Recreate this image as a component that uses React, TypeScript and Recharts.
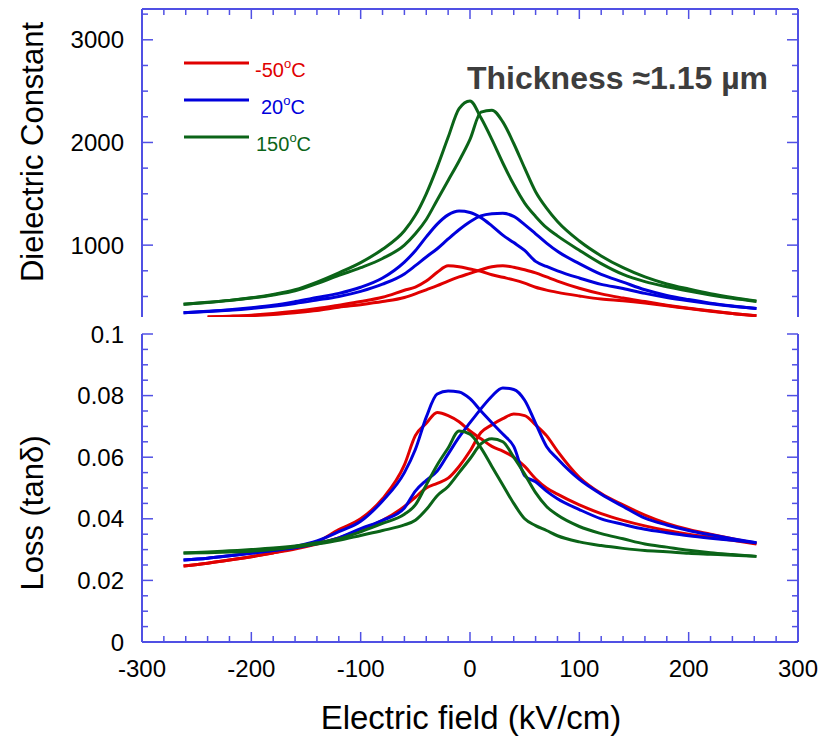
import { LineChart, Line, XAxis, YAxis } from 'recharts';

const FIELD = [-262, -240, -220, -200, -180, -160, -140, -120, -100, -80, -60, -50, -40, -30, -20, -10, 0, 10, 20, 30, 40, 50, 60, 70, 80, 100, 120, 140, 160, 180, 200, 220, 240, 262];

// dielectric constant, branch peaking at negative field (L) and positive field (R)
const EPS_RED_L = [null, 300, 308, 318, 334, 355, 382, 415, 450, 492, 560, 592, 650, 735, 798, 790, 768, 745, 712, 687, 662, 630, 590, 562, 540, 505, 475, 458, 436, 410, 382, 356, 333, 312];
const EPS_RED_R = [null, 300, 305, 313, 325, 342, 362, 395, 420, 450, 490, 525, 565, 605, 650, 690, 725, 760, 790, 800, 785, 760, 730, 690, 650, 580, 525, 485, 450, 415, 385, 360, 335, 312];
const EPS_BLUE_L = [341, 355, 370, 390, 415, 450, 490, 530, 590, 680, 835, 945, 1080, 1205, 1295, 1332, 1318, 1268, 1188, 1098, 1025, 948, 842, 792, 750, 680, 618, 578, 530, 490, 458, 430, 405, 383];
const EPS_BLUE_R = [341, 353, 366, 383, 405, 432, 465, 500, 550, 620, 720, 800, 885, 965, 1060, 1150, 1228, 1285, 1305, 1310, 1280, 1200, 1110, 1020, 940, 820, 715, 640, 565, 510, 470, 435, 408, 383];
const EPS_GREEN_L = [425, 443, 462, 487, 520, 565, 640, 730, 830, 960, 1140, 1290, 1500, 1760, 2050, 2330, 2405, 2240, 2030, 1800, 1590, 1410, 1280, 1170, 1090, 950, 820, 715, 645, 595, 553, 515, 482, 451];
const EPS_GREEN_R = [425, 442, 460, 484, 515, 555, 625, 705, 780, 870, 1000, 1110, 1250, 1440, 1630, 1820, 2030, 2295, 2315, 2200, 1990, 1750, 1520, 1360, 1230, 1040, 895, 780, 690, 622, 572, 527, 490, 455];

// loss tangent
const LOSS_RED_L = [0.0247, 0.0256, 0.0266, 0.0277, 0.0290, 0.0305, 0.0325, 0.0365, 0.0400, 0.0465, 0.0575, 0.0670, 0.0710, 0.0745, 0.0735, 0.0715, 0.0685, 0.0660, 0.0635, 0.0620, 0.0600, 0.0570, 0.0530, 0.0500, 0.0480, 0.0445, 0.0417, 0.0395, 0.0377, 0.0362, 0.0350, 0.0340, 0.0330, 0.0318];
const LOSS_RED_R = [0.0247, 0.0256, 0.0266, 0.0277, 0.0289, 0.0302, 0.0318, 0.0338, 0.0365, 0.0395, 0.0440, 0.0470, 0.0500, 0.0515, 0.0532, 0.0570, 0.0620, 0.0680, 0.0705, 0.0725, 0.0740, 0.0735, 0.0705, 0.0670, 0.0620, 0.0535, 0.0482, 0.0445, 0.0412, 0.0385, 0.0365, 0.0350, 0.0335, 0.0320];
const LOSS_BLUE_L = [0.0266, 0.0272, 0.0280, 0.0289, 0.0298, 0.0310, 0.0328, 0.0358, 0.0392, 0.0458, 0.0550, 0.0625, 0.0730, 0.0805, 0.0815, 0.0812, 0.0790, 0.0750, 0.0712, 0.0675, 0.0635, 0.0540, 0.0520, 0.0490, 0.0465, 0.0430, 0.0400, 0.0382, 0.0366, 0.0355, 0.0345, 0.0337, 0.0330, 0.0322];
const LOSS_BLUE_R = [0.0266, 0.0272, 0.0280, 0.0288, 0.0297, 0.0306, 0.0320, 0.0338, 0.0368, 0.0395, 0.0435, 0.0490, 0.0525, 0.0555, 0.0610, 0.0665, 0.0712, 0.0757, 0.0798, 0.0825, 0.0820, 0.0785, 0.0710, 0.0635, 0.0595, 0.0528, 0.0480, 0.0440, 0.0402, 0.0380, 0.0362, 0.0348, 0.0335, 0.0322];
const LOSS_GREEN_L = [0.0289, 0.0292, 0.0296, 0.0300, 0.0305, 0.0312, 0.0322, 0.0335, 0.0358, 0.0385, 0.0415, 0.0445, 0.0510, 0.0575, 0.0630, 0.0685, 0.0675, 0.0630, 0.0570, 0.0510, 0.0450, 0.0400, 0.0378, 0.0362, 0.0345, 0.0325, 0.0313, 0.0304, 0.0297, 0.0293, 0.0288, 0.0285, 0.0282, 0.0278];
const LOSS_GREEN_R = [0.0289, 0.0290, 0.0292, 0.0295, 0.0300, 0.0308, 0.0318, 0.0330, 0.0346, 0.0362, 0.0380, 0.0395, 0.0430, 0.0475, 0.0505, 0.0550, 0.0595, 0.0643, 0.0660, 0.0650, 0.0600, 0.0545, 0.0485, 0.0440, 0.0412, 0.0375, 0.0352, 0.0335, 0.0318, 0.0308, 0.0298, 0.0290, 0.0284, 0.0278];

const TEMPS = ['-50', '20', '150'];

const range = (from: number, to: number, step: number) =>
  Array.from({ length: Math.round((to - from) / step) + 1 }, (_, i) => +(from + i * step).toFixed(4));

const X_TICKS = range(-300, 300, 20);
const EPS_TICKS = range(500, 3250, 250);
const LOSS_TICKS = range(0, 0.1, 0.005);

const AXIS = '#5050e4';
const COLORS = ['#e00000', '#0000dc', '#0b6418'];
const FONT = '"Liberation Sans", Arial, Helvetica, sans-serif';

const epsRows = FIELD.map((x, i) => ({
  x,
  redL: EPS_RED_L[i], redR: EPS_RED_R[i],
  blueL: EPS_BLUE_L[i], blueR: EPS_BLUE_R[i],
  greenL: EPS_GREEN_L[i], greenR: EPS_GREEN_R[i],
}));

const lossRows = FIELD.map((x, i) => ({
  x,
  redL: LOSS_RED_L[i], redR: LOSS_RED_R[i],
  blueL: LOSS_BLUE_L[i], blueR: LOSS_BLUE_R[i],
  greenL: LOSS_GREEN_L[i], greenR: LOSS_GREEN_R[i],
}));

const SERIES = [
  { key: 'redL', color: COLORS[0] }, { key: 'redR', color: COLORS[0] },
  { key: 'blueL', color: COLORS[1] }, { key: 'blueR', color: COLORS[1] },
  { key: 'greenL', color: COLORS[2] }, { key: 'greenR', color: COLORS[2] },
];

const isMajor = (v: number, step: number) => Math.abs(v / step - Math.round(v / step)) < 1e-6;

type TickProps = { x?: number; y?: number; payload?: { value: number } };

// ticks point into the plot; labels only on major ticks
function yTick(side: 'left' | 'right', step: number, labels: boolean) {
  return ({ x = 0, y = 0, payload }: TickProps) => {
    const v = payload?.value ?? 0;
    const major = isMajor(v, step);
    const dir = side === 'left' ? 1 : -1;
    return (
      <g>
        <line x1={x} y1={y} x2={x + dir * (major ? 11 : 6)} y2={y} stroke={AXIS} strokeWidth={1.5} />
        {labels && major && (
          <text x={x - 18} y={y} dy="0.36em" textAnchor="end" fontFamily={FONT} fontSize={24} fill="#000">
            {String(v)}
          </text>
        )}
      </g>
    );
  };
}

function xTick(side: 'top' | 'bottom', labels: boolean) {
  return ({ x = 0, y = 0, payload }: TickProps) => {
    const v = payload?.value ?? 0;
    const major = isMajor(v, 100);
    const dir = side === 'top' ? 1 : -1;
    return (
      <g>
        <line x1={x} y1={y} x2={x} y2={y + dir * (major ? 10 : 6)} stroke={AXIS} strokeWidth={1.5} />
        {labels && major && (
          <text x={x} y={y + 35} textAnchor="middle" fontFamily={FONT} fontSize={24} fill="#000">
            {String(v)}
          </text>
        )}
      </g>
    );
  };
}

const axisLine = { stroke: AXIS, strokeWidth: 2 };

export default function App() {
  return (
    <div style={{ position: 'absolute', left: 0, top: 0, width: 819, height: 737, background: '#fff' }}>
      <div style={{ position: 'absolute', left: 0, top: 0 }}>
        <LineChart width={819} height={330} data={epsRows} margin={{ top: 8, right: 20, bottom: 13, left: 0 }}>
          <XAxis dataKey="x" type="number" orientation="top" height={1} domain={[-300, 300]} ticks={X_TICKS}
            interval={0} allowDataOverflow tickLine={false} tickSize={0} tickMargin={0} axisLine={axisLine}
            tick={xTick('top', false)} />
          <YAxis yAxisId="l" type="number" width={142} domain={[300, 3300]} ticks={EPS_TICKS} interval={0}
            allowDataOverflow tickLine={false} tickSize={0} tickMargin={0} axisLine={axisLine}
            tick={yTick('left', 1000, true)} />
          <YAxis yAxisId="r" type="number" orientation="right" width={1} domain={[300, 3300]} ticks={EPS_TICKS}
            interval={0} allowDataOverflow tickLine={false} tickSize={0} tickMargin={0} axisLine={axisLine}
            tick={yTick('right', 1000, false)} />
          {SERIES.map((s) => (
            <Line key={s.key} yAxisId="l" dataKey={s.key} type="monotone" stroke={s.color} strokeWidth={3}
              dot={false} activeDot={false} isAnimationActive={false} />
          ))}
        </LineChart>
      </div>
      <div style={{ position: 'absolute', left: 0, top: 315 }}>
        <LineChart width={819} height={422} data={lossRows} margin={{ top: 19, right: 20, bottom: 0, left: 0 }}>
          <XAxis dataKey="x" type="number" height={95} domain={[-300, 300]} ticks={X_TICKS} interval={0}
            allowDataOverflow tickLine={false} tickSize={0} tickMargin={0} axisLine={axisLine}
            tick={xTick('bottom', true)} />
          <YAxis yAxisId="l" type="number" width={142} domain={[0, 0.1]} ticks={LOSS_TICKS} interval={0}
            allowDataOverflow tickLine={false} tickSize={0} tickMargin={0} axisLine={axisLine}
            tick={yTick('left', 0.02, true)} />
          <YAxis yAxisId="r" type="number" orientation="right" width={1} domain={[0, 0.1]} ticks={LOSS_TICKS}
            interval={0} allowDataOverflow tickLine={false} tickSize={0} tickMargin={0} axisLine={axisLine}
            tick={yTick('right', 0.02, false)} />
          {SERIES.map((s) => (
            <Line key={s.key} yAxisId="l" dataKey={s.key} type="monotone" stroke={s.color} strokeWidth={3}
              dot={false} activeDot={false} isAnimationActive={false} />
          ))}
        </LineChart>
      </div>
      <svg width={819} height={737} style={{ position: 'absolute', left: 0, top: 0, pointerEvents: 'none' }}
        fontFamily={FONT}>
        {TEMPS.map((t, i) => (
          <g key={t}>
            <line x1={184} x2={249} y1={63 + i * 37} y2={63 + i * 37} stroke={COLORS[i]} strokeWidth={3} />
            <text x={[255, 261, 256][i]} y={77 + i * 37} fontSize={20} fill={COLORS[i]}>
              {t}
              <tspan fontSize={13} dy={-9}>o</tspan>
              <tspan dy={9}>C</tspan>
            </text>
          </g>
        ))}
        <text x={467} y={89} fontSize={32} fontWeight="bold" fill="#3d3d3d">Thickness ≈1.15 µm</text>
        <text transform="translate(32,152) rotate(-90)" textAnchor="middle" dominantBaseline="central"
          fontSize={31} fill="#000">Dielectric Constant</text>
        <text transform="translate(32,513) rotate(-90)" textAnchor="middle" dominantBaseline="central"
          fontSize={31} fill="#000">Loss (tanδ)</text>
        <text x={471} y={729} textAnchor="middle" fontSize={33} fill="#000">Electric field (kV/cm)</text>
      </svg>
    </div>
  );
}
